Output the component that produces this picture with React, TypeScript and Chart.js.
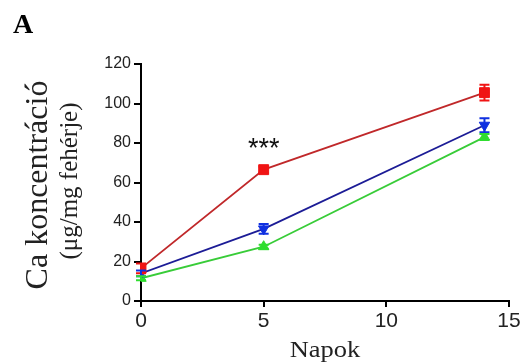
import React, { useEffect, useRef } from "react";
import { Chart, registerables } from "chart.js";

Chart.register(...registerables);

const days = [0, 5, 14];
const controlMeans = [16.5, 66.5, 105.5];
const controlErr = [2.5, 1.5, 4];
const blueMeans = [14, 36.5, 89];
const blueErr = [1.5, 2.5, 3.5];
const greenMeans = [11.5, 27.5, 83];
const greenErr = [1, 1, 1.5];
const yTicks = [0, 20, 40, 60, 80, 100, 120];
const xTicks = [0, 5, 10, 15];

const panelLabel = "A";
const yTitle = "Ca koncentráció";
const ySubtitle = "(μg/mg fehérje)";
const xTitle = "Napok";
const sigLabel = "***";
const sigDay = 5;
const sigValue = 80;

const errorsByDataset = [controlErr, blueErr, greenErr];

const errorBarPlugin = {
  id: "errorBars",
  afterDatasetsDraw(chart: any) {
    const ctx = chart.ctx;
    const xs = chart.scales.x;
    const ys = chart.scales.y;
    chart.data.datasets.forEach((ds: any, i: number) => {
      const errs = errorsByDataset[i];
      ctx.save();
      ctx.strokeStyle = ds.pointBackgroundColor;
      ctx.lineWidth = 2;
      ds.data.forEach((p: any, j: number) => {
        const x = xs.getPixelForValue(p.x);
        const yTop = ys.getPixelForValue(p.y + errs[j]);
        const yBot = ys.getPixelForValue(p.y - errs[j]);
        ctx.beginPath();
        ctx.moveTo(x, yTop);
        ctx.lineTo(x, yBot);
        ctx.moveTo(x - 5, yTop);
        ctx.lineTo(x + 5, yTop);
        ctx.moveTo(x - 5, yBot);
        ctx.lineTo(x + 5, yBot);
        ctx.stroke();
      });
      ctx.restore();
    });
  },
};

const textPlugin = {
  id: "texts",
  afterDraw(chart: any) {
    const ctx = chart.ctx;
    const xs = chart.scales.x;
    const ys = chart.scales.y;
    ctx.save();
    ctx.fillStyle = "#000";
    ctx.font = "bold 28px 'Liberation Serif'";
    ctx.textAlign = "left";
    ctx.textBaseline = "alphabetic";
    ctx.fillText(panelLabel, 13, 33);

    ctx.fillStyle = "#222";
    ctx.save();
    ctx.translate(47, 185);
    ctx.rotate(-Math.PI / 2);
    ctx.textAlign = "center";
    ctx.font = "32px 'Liberation Serif'";
    ctx.fillText(yTitle, 0, 0);
    ctx.restore();

    ctx.save();
    ctx.translate(77, 181);
    ctx.rotate(-Math.PI / 2);
    ctx.textAlign = "center";
    ctx.font = "25px 'Liberation Serif'";
    ctx.fillText(ySubtitle, 0, 0);
    ctx.restore();

    ctx.save();
    ctx.translate(325, 357);
    ctx.scale(1.15, 1);
    ctx.textAlign = "center";
    ctx.font = "23px 'Liberation Serif'";
    ctx.fillText(xTitle, 0, 0);
    ctx.restore();

    ctx.fillStyle = "#111";
    ctx.textAlign = "center";
    ctx.textBaseline = "middle";
    ctx.font = "27px 'Liberation Sans'";
    ctx.fillText(sigLabel, xs.getPixelForValue(sigDay), ys.getPixelForValue(sigValue) + 7);
    ctx.restore();
  },
};

function toPoints(vals: number[]) {
  return vals.map((v, i) => ({ x: days[i], y: v }));
}

export default function App() {
  const ref = useRef<HTMLCanvasElement | null>(null);
  useEffect(() => {
    if (!ref.current) return;
    const chart = new Chart(ref.current, {
      type: "line",
      data: {
        datasets: [
          {
            data: toPoints(controlMeans),
            borderColor: "#c0282a",
            borderWidth: 1.8,
            pointStyle: "rect",
            pointRadius: 7,
            pointBorderWidth: 1,
            pointBackgroundColor: "#f01414",
            pointBorderColor: "#f01414",
          },
          {
            data: toPoints(blueMeans),
            borderColor: "#1c1c96",
            borderWidth: 1.8,
            pointStyle: "triangle",
            rotation: 180,
            pointRadius: 6,
            pointBorderWidth: 1,
            pointBackgroundColor: "#1030e0",
            pointBorderColor: "#1030e0",
          },
          {
            data: toPoints(greenMeans),
            borderColor: "#38cc38",
            borderWidth: 1.8,
            pointStyle: "triangle",
            pointRadius: 6,
            pointBorderWidth: 1,
            pointBackgroundColor: "#30dd30",
            pointBorderColor: "#30dd30",
          },
        ],
      },
      options: {
        responsive: false,
        animation: false,
        layout: { padding: { top: 64, right: 14, left: 0, bottom: 0 } },
        plugins: { legend: { display: false }, tooltip: { enabled: false } },
        scales: {
          x: {
            type: "linear",
            min: 0,
            max: 15,
            afterFit: (s: any) => {
              s.height = 62;
            },
            afterBuildTicks: (s: any) => {
              s.ticks = xTicks.map((v) => ({ value: v }));
            },
            ticks: {
              color: "#222",
              font: { family: "'Liberation Sans'", size: 21 },
              padding: 2,
            },
            grid: {
              display: true,
              drawOnChartArea: false,
              drawTicks: true,
              tickLength: 6,
              color: "#000",
              lineWidth: 2,
            },
            border: { display: true, color: "#000", width: 2 },
          },
          y: {
            min: 0,
            max: 120,
            afterFit: (s: any) => {
              s.width = 141;
            },
            afterBuildTicks: (s: any) => {
              s.ticks = yTicks.map((v) => ({ value: v }));
            },
            ticks: {
              color: "#222",
              font: { family: "'Liberation Sans'", size: 16 },
              padding: 3,
            },
            grid: {
              display: true,
              drawOnChartArea: false,
              drawTicks: true,
              tickLength: 7,
              color: "#000",
              lineWidth: 2,
            },
            border: { display: true, color: "#000", width: 2 },
          },
        },
      },
      plugins: [errorBarPlugin, textPlugin],
    } as any);
    return () => chart.destroy();
  }, []);
  return (
    <div style={{ position: "absolute", left: 0, top: 0, width: 523, height: 363, background: "#fff" }}>
      <canvas ref={ref} width={523} height={363} style={{ width: 523, height: 363 }} />
    </div>
  );
}
